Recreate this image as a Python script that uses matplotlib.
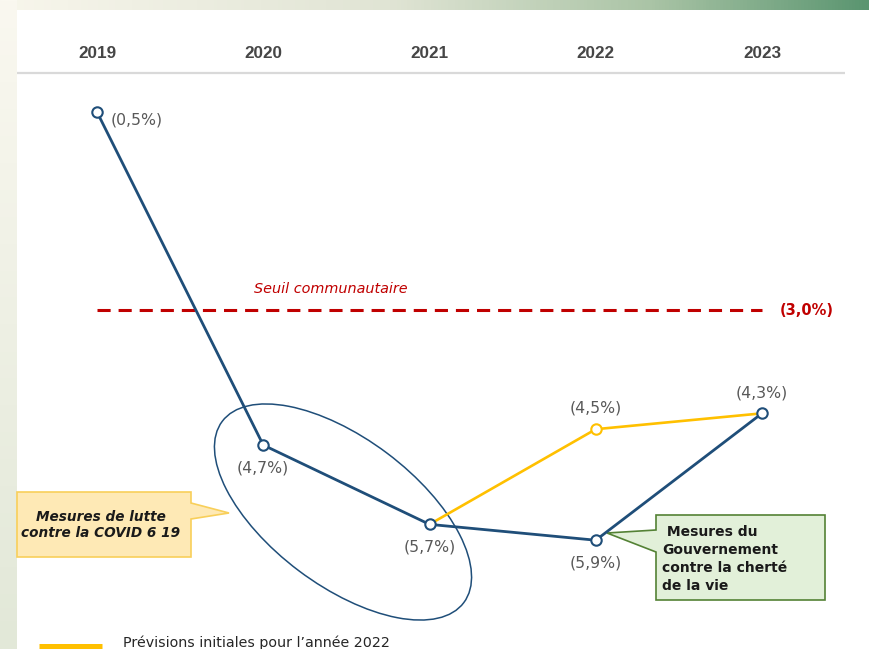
import matplotlib
matplotlib.use("Agg")
import matplotlib.pyplot as plt
import numpy as np
from matplotlib.colors import LinearSegmentedColormap
from matplotlib.patches import Ellipse, Polygon

# ---- data -------------------------------------------------------------
years = [2019, 2020, 2021, 2022, 2023]
solde_realise = [-0.5, -4.7, -5.7, -5.9, -4.3]          # blue line
prev_years = [2021, 2022, 2023]
prev_initiales = [-5.7, -4.5, -4.3]                      # yellow line
seuil = -3.0
legend_label = "Prévisions initiales pour l’année 2022"

BLUE = "#1f4e79"
YELLOW = "#ffc000"
RED = "#c00000"
GRAY_TXT = "#595959"

W, H = 869, 649
fig = plt.figure(figsize=(W / 100, H / 100), dpi=100)
fig.patch.set_facecolor("white")

# ---- background / decorations in pixel coordinates ---------------------
bg = fig.add_axes([0, 0, 1, 1])
bg.set_xlim(0, W)
bg.set_ylim(H, 0)
bg.axis("off")

top_cmap = LinearSegmentedColormap.from_list(
    "top", [(0, "#f8f6ec"), (0.45, "#e0e4d4"), (0.75, "#aac4a6"), (1, "#5a9570")])
bg.imshow(np.linspace(0, 1, 256)[None, :], cmap=top_cmap, aspect="auto",
          extent=[0, W, 10, 0], zorder=1)
side_cmap = LinearSegmentedColormap.from_list("side", ["#faf8f0", "#e2e8d8"])
bg.imshow(np.linspace(0, 1, 256)[:, None], cmap=side_cmap, aspect="auto",
          extent=[0, 17, H, 0], zorder=1)
bg.set_xlim(0, W)
bg.set_ylim(H, 0)

# header rule
bg.plot([17, 845], [73, 73], color="#d9d9d9", lw=1.6, solid_capstyle="butt", zorder=2)

# ellipse around the COVID years
bg.add_patch(Ellipse((343, 512), 302, 147, angle=36.9, fill=False,
                     ec=BLUE, lw=1.1, zorder=2))

# yellow callout
bg.add_patch(Polygon([(17, 492), (191, 492), (191, 503), (229, 513), (191, 519),
                      (191, 557), (17, 557)], closed=True,
                     fc="#fee9b5", ec="#f8cf5a", lw=1.2, zorder=3))
bg.text(101, 525, "Mesures de lutte\ncontre la COVID 6 19", ha="center", va="center",
        fontsize=9.8, fontweight="bold", fontstyle="italic", color="#1a1a1a",
        linespacing=1.15, zorder=4)

# green callout
bg.add_patch(Polygon([(656, 515), (825, 515), (825, 600), (656, 600), (656, 552),
                      (607, 533), (656, 530)], closed=True,
                     fc="#e2f0d9", ec="#548235", lw=1.2, zorder=3))
bg.text(662, 559, " Mesures du\nGouvernement\ncontre la cherté\nde la vie",
        ha="left", va="center", fontsize=10, fontweight="bold", color="#1a1a1a",
        linespacing=1.36, zorder=4)

# legend (cut at the bottom edge)
bg.plot([39, 102], [645.5, 645.5], color=YELLOW, lw=3.6, solid_capstyle="butt", zorder=2)
bg.text(123, 647, legend_label, ha="left", va="baseline", fontsize=10.3,
        color="#262626", zorder=4)

# ---- data axes ---------------------------------------------------------
px_per_year = 166.25
px_per_unit = 79.3
x0_px, y0_px = 97, 112        # pixel position of first point
ax = fig.add_axes([0, 0, 1, 1], facecolor="none")
ax.set_xlim(years[0] - x0_px / px_per_year, years[0] + (W - x0_px) / px_per_year)
ax.set_ylim(solde_realise[0] - (H - y0_px) / px_per_unit,
            solde_realise[0] + y0_px / px_per_unit)
ax.axis("off")

# year header
for yr in years:
    ax.text(yr, 1 - 53 / H, str(yr), transform=ax.get_xaxis_transform(),
            ha="center", va="center", fontsize=12.3, fontweight="bold",
            family="Liberation Sans", color="#464646")

# community threshold
ax.plot([years[0], years[-1]], [seuil, seuil], color=RED, lw=2.2,
        dashes=(4.3, 2.6), zorder=3)
ax.annotate("Seuil communautaire", (years[0], seuil), xytext=(234 * 0.72, 15),
            textcoords="offset points", ha="center", va="center",
            fontsize=10.4, fontstyle="italic", color=RED)
ax.annotate(f"({abs(seuil):.1f}%)".replace(".", ","), (years[-1], seuil),
            xytext=(13, 0), textcoords="offset points", ha="left", va="center",
            fontsize=10.5, fontweight="bold", color=RED)

# series
ax.plot(prev_years, prev_initiales, color=YELLOW, lw=1.9, zorder=4)
ax.plot(prev_years[1:-1], prev_initiales[1:-1], "o", ms=7.5, mfc="white",
        mec=YELLOW, mew=1.5, zorder=5)
ax.plot(years, solde_realise, color=BLUE, lw=2.0, zorder=6)
ax.plot(years, solde_realise, "o", ms=7.5, mfc="white", mec=BLUE, mew=1.5, zorder=7)

def fmt(v):
    return f"({abs(v):.1f}%)".replace(".", ",")

label_offsets = [(10, -6, "left"), (0, -16.5, "center"), (0, -16.5, "center"),
                 (0, -16.5, "center"), (0, 14.5, "center")]
for x, v, (dx, dy, ha) in zip(years, solde_realise, label_offsets):
    ax.annotate(fmt(v), (x, v), xytext=(dx, dy), textcoords="offset points",
                ha=ha, va="center", fontsize=11.3, color=GRAY_TXT, zorder=8)
ax.annotate(fmt(prev_initiales[1]), (prev_years[1], prev_initiales[1]),
            xytext=(0, 15), textcoords="offset points", ha="center", va="center",
            fontsize=11.3, color=GRAY_TXT, zorder=8)

fig.savefig("out.png", dpi=100)
